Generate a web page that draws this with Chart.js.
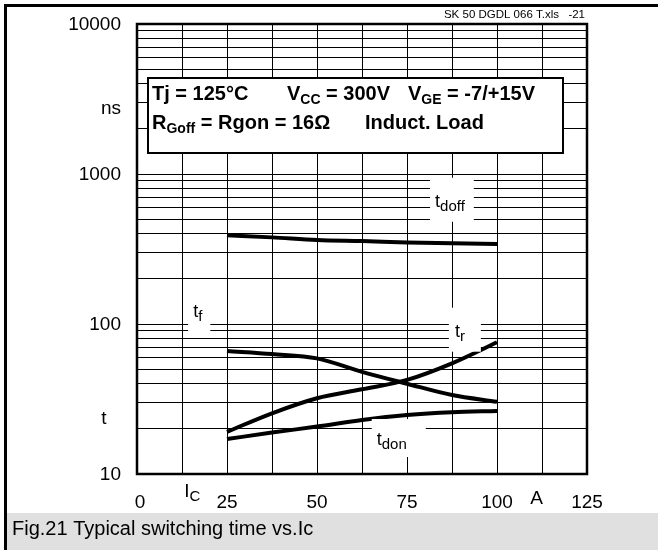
<!DOCTYPE html>
<html><head><meta charset="utf-8">
<script src="https://cdn.jsdelivr.net/npm/chart.js@4/dist/chart.umd.min.js"></script>
<style>html,body{margin:0;padding:0;background:#fff}canvas{display:block}</style>
</head><body>
<canvas id="c" width="658" height="550"></canvas>
<script>
// Collector current Ic, A
const currents = [25, 37.5, 50, 62.5, 75, 87.5, 100];
// Switching times, ns
const tdoff = [390, 378, 363, 357, 350, 345, 341];
const tf    = [66, 63, 59, 48, 40, 33.6, 30.3];
const tr    = [19.1, 25.4, 32.0, 36.7, 42.4, 54.7, 75.5];
const tdon  = [17.1, 18.9, 20.7, 22.9, 24.7, 25.8, 26.3];

// Axis ticks
const xTickValues = [0, 25, 50, 75, 100, 125];
const yTickValues = [10, 100, 1000, 10000];
const yGridMultipliers = [1, 2, 3, 4, 5, 6, 7, 8, 9];

const FONT = '"Liberation Sans", Arial, Helvetica, sans-serif';

// Curve name labels: text anchored at (Ic, ns), white box padding [left, right, top, bottom] in px
const curveLabels = [
  { main: 't', sub: 'doff', at: [82.8, 605],  pad: [5, 9, 29, 15] },
  { main: 't', sub: 'r',    at: [88.3, 82.3], pad: [6, 16, 29, 15] },
  { main: 't', sub: 'f',    at: [15.6, 112],  pad: [5, 8, 17, 18] },
  { main: 't', sub: 'don',  at: [66.6, 15.6], pad: [5, 19, 26, 12] }
];

function pts(ys) { return currents.map((x, i) => ({ x: x, y: ys[i] })); }

function seriesStyle(label, data) {
  return {
    label: label, data: pts(data),
    borderColor: '#000', borderWidth: 4, pointRadius: 0,
    cubicInterpolationMode: 'monotone', fill: false
  };
}

function drawSub(ctx, x, y, main, sub, size, subSize, weight, dy) {
  ctx.font = weight + ' ' + size + 'px ' + FONT;
  ctx.fillText(main, x, y);
  let w = ctx.measureText(main).width;
  ctx.font = weight + ' ' + subSize + 'px ' + FONT;
  ctx.fillText(sub, x + w, y + dy);
  return x + w + ctx.measureText(sub).width;
}

const decor = {
  id: 'decor',
  beforeDraw(chart) {
    const ctx = chart.ctx;
    ctx.save();
    ctx.fillStyle = '#fff';
    ctx.fillRect(0, 0, chart.width, chart.height);
    ctx.restore();
  },
  afterDatasetsDraw(chart) {
    const ctx = chart.ctx, xs = chart.scales.x, ys = chart.scales.y, a = chart.chartArea;
    ctx.save();
    ctx.textBaseline = 'alphabetic';
    ctx.textAlign = 'left';
    // curve name labels on white boxes
    curveLabels.forEach(l => {
      const px = xs.getPixelForValue(l.at[0]);
      const py = ys.getPixelForValue(l.at[1]);
      ctx.font = '18px ' + FONT;
      let w = ctx.measureText(l.main).width;
      ctx.font = '15px ' + FONT;
      w += ctx.measureText(l.sub).width;
      ctx.fillStyle = '#fff';
      ctx.fillRect(px - l.pad[0], py - l.pad[2], w + l.pad[0] + l.pad[1], l.pad[2] + l.pad[3]);
      ctx.fillStyle = '#000';
      drawSub(ctx, px, py, l.main, l.sub, 18, 15, 'normal', 4);
    });

    // conditions box
    ctx.fillStyle = '#fff';
    ctx.fillRect(148, 78, 415, 75);
    ctx.strokeStyle = '#000';
    ctx.lineWidth = 2;
    ctx.strokeRect(148, 78, 415, 75);
    ctx.fillStyle = '#000';
    ctx.font = 'bold 20px ' + FONT;
    ctx.fillText('Tj = 125\u00B0C', 152, 100);
    drawSub(ctx, 287, 100, 'V', 'CC', 20, 14, 'bold', 4);
    ctx.font = 'bold 20px ' + FONT;
    let e = 287 + ctx.measureText('V').width;
    ctx.font = 'bold 14px ' + FONT;
    e += ctx.measureText('CC').width;
    ctx.font = 'bold 20px ' + FONT;
    ctx.fillText(' = 300V', e, 100);
    let e2 = drawSub(ctx, 408, 100, 'V', 'GE', 20, 14, 'bold', 4);
    ctx.font = 'bold 20px ' + FONT;
    ctx.fillText(' = -7/+15V', e2, 100);
    let e3 = drawSub(ctx, 152, 129, 'R', 'Goff', 20, 14, 'bold', 4);
    ctx.font = 'bold 20px ' + FONT;
    ctx.fillText(' = Rgon = 16\u03A9', e3, 129);
    ctx.fillText('Induct. Load', 365, 129);

    // plot frame
    ctx.lineWidth = 2.5;
    ctx.strokeRect(a.left, a.top, a.right - a.left, a.bottom - a.top);
    ctx.restore();
  },
  afterDraw(chart) {
    const ctx = chart.ctx, xs = chart.scales.x, ys = chart.scales.y, a = chart.chartArea;
    ctx.save();
    ctx.fillStyle = '#000';
    ctx.textBaseline = 'middle';
    ctx.font = '19px ' + FONT;
    // y tick labels
    ctx.textAlign = 'right';
    yTickValues.forEach(v => ctx.fillText(String(v), a.left - 16, ys.getPixelForValue(v) + 1));
    ctx.fillText('ns', a.left - 16, ys.getPixelForValue(2740));
    ctx.textAlign = 'center';
    ctx.fillText('t', a.left - 33, ys.getPixelForValue(23.3));
    // x tick labels
    xTickValues.forEach(v => ctx.fillText(String(v), xs.getPixelForValue(v) + (v === 0 ? 3 : 0), a.bottom + 29));
    ctx.fillText('A', xs.getPixelForValue(111), a.bottom + 25);
    ctx.textAlign = 'left';
    ctx.textBaseline = 'alphabetic';
    drawSub(ctx, xs.getPixelForValue(13.1), a.bottom + 23, 'I', 'C', 19, 15, 'normal', 4);

    // header reference
    ctx.font = '11.5px ' + FONT;
    ctx.textAlign = 'right';
    ctx.fillText('SK 50 DGDL 066 T.xls', 559, 18);
    ctx.fillText('-21', 585, 18);

    // caption band
    ctx.fillStyle = '#e0e0e0';
    ctx.fillRect(7, 513, chart.width - 7, chart.height - 513);
    ctx.fillStyle = '#000';
    ctx.textAlign = 'left';
    ctx.font = '20px ' + FONT;
    ctx.fillText('Fig.21 Typical switching time vs.Ic', 12, 535);

    // outer frame (top and left)
    ctx.fillRect(4, 4, chart.width - 4, 3);
    ctx.fillRect(4, 4, 3, chart.height - 4);
    ctx.restore();
  }
};

new Chart(document.getElementById('c'), {
  type: 'line',
  data: {
    datasets: [
      seriesStyle('tdoff', tdoff),
      seriesStyle('tf', tf),
      seriesStyle('tr', tr),
      seriesStyle('tdon', tdon)
    ]
  },
  options: {
    responsive: false,
    animation: false,
    devicePixelRatio: 1,
    layout: { padding: { left: 137, right: 71, top: 24, bottom: 76 } },
    plugins: { legend: { display: false }, tooltip: { enabled: false } },
    scales: {
      x: {
        type: 'linear', min: 0, max: 125,
        ticks: { display: false, stepSize: 12.5 },
        grid: { color: '#000', lineWidth: 1, drawTicks: false },
        border: { display: false }
      },
      y: {
        type: 'logarithmic', min: 10, max: 10000,
        ticks: { display: false },
        afterBuildTicks(scale) {
          const t = [];
          for (let i = 0; i < yTickValues.length - 1; i++) {
            yGridMultipliers.forEach(m => t.push({ value: yTickValues[i] * m }));
          }
          t.push({ value: yTickValues[yTickValues.length - 1] });
          scale.ticks = t;
        },
        grid: { color: '#000', lineWidth: 1, drawTicks: false },
        border: { display: false }
      }
    }
  },
  plugins: [decor]
});
</script>
</body></html>
